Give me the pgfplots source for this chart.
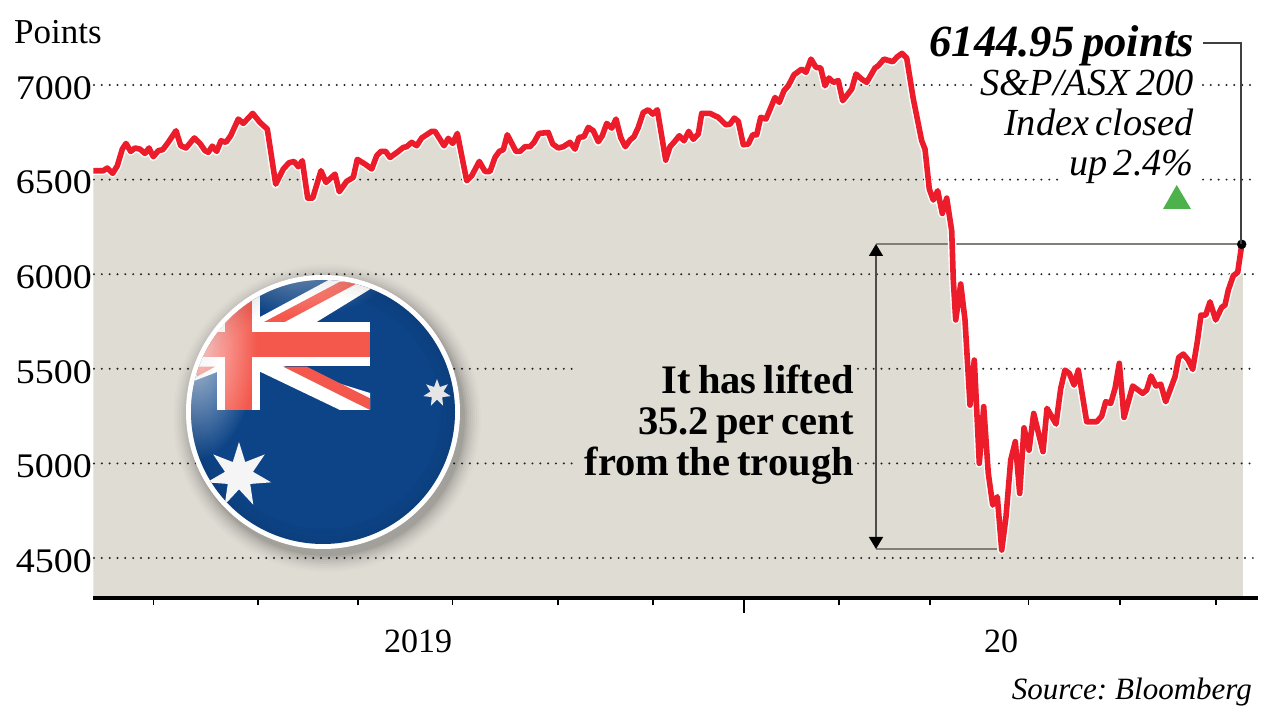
\documentclass[border=0pt]{standalone}
\usepackage{fontspec}
\setmainfont{Liberation Serif}[WordSpace=0.7]
\newfontfamily\wide{Liberation Serif}[FakeStretch=1.1]
\usepackage{pgfplots}
\usepackage{pgfplotstable}
\pgfplotsset{compat=1.18}
\usetikzlibrary{fadings,shapes.geometric,arrows.meta}
\definecolor{bgfill}{HTML}{DEDCD3}
\definecolor{redline}{HTML}{EC1C2A}
\definecolor{flagblue}{HTML}{0D4487}
\definecolor{flagred}{HTML}{F4584C}
\definecolor{ruleg}{HTML}{7F7F78}
\definecolor{dots}{HTML}{222222}
\definecolor{upgreen}{HTML}{4DB24B}
\tikzfading[name=glow,inner color=transparent!25,outer color=transparent!100]
\pgfplotstableread{
x v
93.3 6547
103.3 6547
107.3 6561
112.7 6533
117.3 6573
122.3 6661
126 6691
130.7 6649
135 6667
140 6661
145 6638
149 6667
153.3 6621
158.3 6653
162.7 6658
168.3 6697
176 6758
180.7 6679
186 6667
194.3 6720
200 6691
205 6653
208.3 6644
212.3 6677
216.7 6649
221 6705
226 6697
230.7 6732
238.3 6820
243.3 6797
252.7 6850
260 6802
267.3 6767
275.7 6476
283.3 6556
289 6589
294 6596
298.3 6568
302.3 6600
307.7 6402
312.7 6402
321 6547
326 6485
335 6529
339.3 6436
346.7 6491
353.3 6512
357.3 6607
365 6582
371.7 6556
376.7 6626
381 6649
385.7 6649
390 6617
398.3 6649
403.3 6670
406.7 6674
411.7 6697
416.7 6679
421.7 6720
431.7 6755
435 6755
444 6679
448.3 6718
452.7 6691
457.3 6744
466.7 6494
471.7 6520
479.3 6596
485 6543
490 6543
495 6617
499.3 6649
503.3 6658
507.3 6737
516 6649
520 6649
525 6674
530 6674
534 6697
539 6744
548.3 6749
552.7 6688
558.3 6667
563.3 6674
570 6697
575 6661
579 6723
584 6727
588.3 6776
593.3 6758
598.3 6700
602.3 6732
606.7 6797
611.7 6772
616 6820
620.7 6723
625.3 6674
630 6709
634 6727
638.3 6776
643.3 6855
648.3 6869
652.7 6846
657.3 6869
665.7 6603
670 6674
674 6697
679.3 6732
684 6705
688.7 6755
693.3 6713
698.3 6741
701.7 6850
710 6850
718.3 6829
725.7 6790
730 6793
734.3 6825
738.3 6808
743.3 6684
748.3 6688
752.7 6737
756.7 6737
760.7 6829
766 6820
775 6934
779.3 6908
784 6970
788.3 6996
794 7054
801.7 7084
806 7067
811 7137
816 7093
820.7 7090
825 6996
829 7037
833.3 7014
838.3 7023
842.7 6917
851.7 6978
856 7058
861.7 7031
866.7 7014
875 7090
878.3 7102
884 7137
892.7 7123
897.3 7149
902 7167
906.7 7142
913.3 6926
921.7 6705
925 6661
929.3 6450
933.3 6392
937.7 6441
942.3 6321
946.7 6402
951.7 6230
953.3 5969
955.7 5758
960.7 5948
965 5758
970 5308
974.3 5546
979.3 5000
983.7 5300
988.3 4947
992.7 4780
997.3 4824
1001.7 4542
1006 4718
1010.7 5018
1015.3 5115
1019.7 4841
1024 5188
1029 5070
1033.7 5264
1043 5062
1047 5291
1056 5208
1060.7 5396
1065 5493
1069.3 5476
1074 5414
1078.3 5493
1086.7 5220
1096.7 5220
1101.7 5250
1105.7 5326
1110.7 5317
1115 5396
1119.3 5529
1124 5243
1132.7 5409
1142.7 5370
1146.7 5388
1151 5462
1156 5409
1160.7 5419
1165.7 5326
1175 5458
1178.7 5560
1183.3 5578
1188.3 5546
1192.7 5497
1197.3 5643
1201 5784
1205.7 5784
1210 5854
1215.7 5758
1221.7 5825
1225 5837
1228.3 5916
1233.3 5992
1237.7 6010
1241.7 6155
}\asxdata
\newcommand{\fs}[1]{\fontsize{#1}{#1}\selectfont}
\begin{document}
\begin{tikzpicture}[x=1pt,y=1pt]
\useasboundingbox (0,0) rectangle (1280,720);
\begin{axis}[
  at={(93pt,122pt)}, anchor=south west,
  scale only axis, width=1165pt, height=598pt,
  xmin=93, xmax=1258, ymin=4288.6, ymax=7449.3,
  clip=false,
  axis on top=true,
  axis x line*=bottom, axis y line*=left,
  x axis line style={line width=3.5pt,black,-},
  y axis line style={draw=none,-},
  xtick={744},
  xticklabels={},
  minor xtick={153.6,258,358,452.6,558,653,839,930,1028.6,1120,1216},
  major tick length=15pt,
  minor tick length=7.5pt,
  xtick align=outside,
  major x tick style={line width=2.4pt,black},
  minor x tick style={line width=1.1pt,black},
  extra x ticks={418,1001},
  extra x tick labels={2019,20},
  extra x tick style={major tick length=0pt,
     xticklabel style={anchor=base,yshift=-54.5pt}},
  ytick={4500,5000,5500,6000,6500,7000},
  ytick align=inside,
  major y tick style={draw=none},
  /pgf/number format/assume math mode=true,
  /pgf/number format/1000 sep={},
  yticklabel style={anchor=east,inner sep=0pt,xshift=-1pt,yshift=-3pt,font=\wide\fs{34.5}},
  xticklabel style={font=\fs{34},inner sep=0pt},
]
\addplot[fill=bgfill,draw=none,forget plot] table[x=x,y=v]{\asxdata} \closedcycle;
\addplot[fill=bgfill,draw=none,forget plot] coordinates {(1241,4288.6)(1241,6000)(1243,6000)(1243,4288.6)} -- cycle;
\pgfplotsset{dotline/.style={dots,line width=2.2pt,line cap=round,dash pattern=on 0pt off 7.83pt,forget plot}}
\addplot[dotline] coordinates {(94,7000)(975,7000)};
\addplot[dotline] coordinates {(1203,7000)(1253,7000)};
\addplot[dotline] coordinates {(94,6500)(1058,6500)};
\addplot[dotline] coordinates {(1203,6500)(1253,6500)};
\addplot[dotline] coordinates {(94,6000)(1253,6000)};
\addplot[dotline] coordinates {(94,5500)(572,5500)};
\addplot[dotline] coordinates {(858,5500)(1253,5500)};
\addplot[dotline] coordinates {(94,5000)(572,5000)};
\addplot[dotline] coordinates {(858,5000)(1253,5000)};
\addplot[dotline] coordinates {(94,4500)(1253,4500)};
\addplot[ruleg,line width=1.4pt,forget plot] coordinates {(876,6160)(1241.7,6160)};
\addplot[ruleg,line width=1.4pt,forget plot] coordinates {(876,4547)(997,4547)};
\addplot[white,line width=8.4pt,line join=round,line cap=round,forget plot] table[x=x,y=v]{\asxdata};
\addplot[redline,line width=5.6pt,line join=round,forget plot] table[x=x,y=v]{\asxdata};
\addplot[only marks,mark=*,mark size=4.5pt,mark options={black,fill=black},forget plot] coordinates {(1241.7,6158)};
\end{axis}
\begin{scope}[x=1pt,y=-1pt,yshift=720pt]
  % flag shadow
  \foreach \r/\o in {154/0.012,152/0.015,150/0.02,148/0.025,146/0.03,144/0.035,142/0.04,140/0.05,138/0.06}{
    \fill[black,opacity=\o] (327,418) circle (\r pt);
  }
  \fill[white] (323,412) circle (137pt);
  \begin{scope}
    \clip (323,412) circle (132pt);
    \fill[flagblue] (180,260) rectangle (470,560);
    % union flag
    \fill[white] (260,317)--(336,276)--(372,288)--(315,323)--(260,323)--cycle;
    \fill[flagred] (262.7,322.7)--(283.3,322.7)--(358.3,282.7)--(340,281.7)--cycle;
    \fill[white] (260,371.7)--(340,410)--(370,410)--(370,393)--(283,366)--(260,366)--cycle;
    \fill[flagred] (283.3,366.7)--(306.7,366.7)--(370,398.3)--(370,410)--cycle;
    \fill[white] (186,384)--(217,372)--(217,366)--(186,366)--cycle;
    \fill[white] (186,322)--(217,322)--(217,285)--(186,300)--cycle;
    \fill[white] (217,270) rectangle (260,410);
    \fill[white] (186,322) rectangle (370,366);
    \fill[flagred] (225,270) rectangle (252,410);
    \fill[flagred] (186,332) rectangle (370,357);
    \fill[flagred] (196.7,366.7)--(215,366.7)--(196.7,376.7)--cycle;
    % rim shading
    \foreach \r/\o in {131/0.07,127/0.05,123/0.035,119/0.02}{
      \draw[black,opacity=\o,line width=4pt] (323,412) circle (\r pt);
    }
    % gloss
    \fill[white,path fading=glow,fill opacity=0.95] (195,345) ellipse (62pt and 115pt);
    \fill[white,path fading=glow,fill opacity=0.6] (300,262) ellipse (95pt and 55pt);
    % stars
    \node[star,star points=7,star point ratio=2.3,minimum size=66pt,inner sep=0pt,fill=white!96!black] at (239,475) {};
    \node[star,star points=7,star point ratio=2.1,minimum size=28pt,inner sep=0pt,fill=white!90!black] at (437,393) {};
  \end{scope}
  % leader, arrow
  \draw[black!75,line width=1.2pt] (1203,43)--(1241,43)--(1241,244);
  \draw[black!70,line width=1.4pt,{Triangle[length=12pt,width=14pt,black]}-{Triangle[length=12pt,width=14pt,black]}] (876,244)--(876,549);
  % green triangle
  \fill[upgreen] (1176.7,185)--(1163,209)--(1191,209)--cycle;
  % text
  \node[anchor=base west,inner sep=0pt] at (14,44) {\fs{35}Points};
  \node[anchor=base east,inner sep=0pt] at (1194,57) {\fs{44.6}\bfseries\itshape 6144.95 points};
  \node[anchor=base east,inner sep=0pt] at (1194,96) {\fs{38.3}\itshape S\&P/ASX 200};
  \node[anchor=base east,inner sep=0pt] at (1194,136) {\fs{38.3}\itshape Index closed};
  \node[anchor=base east,inner sep=0pt] at (1194,176) {\fs{38.3}\itshape up 2.4\%};
  \node[anchor=base east,inner sep=0pt] at (854,394) {\fs{40.5}\bfseries It has lifted};
  \node[anchor=base east,inner sep=0pt] at (854,435) {\fs{40.5}\bfseries 35.2 per cent};
  \node[anchor=base east,inner sep=0pt] at (854,476) {\fs{40.5}\bfseries from the trough};
  \node[anchor=base east,inner sep=0pt] at (1252,700) {\fs{31}\itshape Source: Bloomberg};
\end{scope}
\end{tikzpicture}
\end{document}
